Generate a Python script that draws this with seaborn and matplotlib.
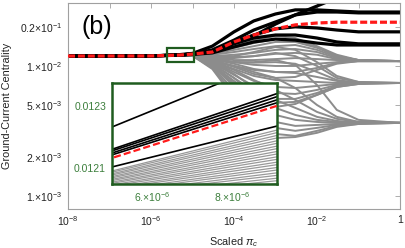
import matplotlib
matplotlib.use("Agg")
import matplotlib.pyplot as plt
import numpy as np
import pandas as pd
import seaborn as sns
from matplotlib.patches import Rectangle
from matplotlib.ticker import FixedLocator, FixedFormatter, NullLocator

# ---------------- data ----------------
x_grid = [1e-8, 1e-6, 5e-6, 1e-5, 3e-5, 1e-4, 3e-4, 1e-3, 3e-3, 1e-2, 3e-2, 1e-1, 1.0]

black_a = [0.01192, 0.01194, 0.012155, 0.012367, 0.0128, 0.0153, 0.0170, 0.0210, 0.0247, 0.0289, 0.0334, 0.0384, 0.0459]
black_b = [0.01192, 0.01194, 0.012232, 0.012495, 0.0142, 0.0183, 0.0222, 0.0251, 0.0270, 0.0270, 0.0265, 0.0260, 0.0260]
black_c = [0.01192, 0.01194, 0.012148, 0.012356, 0.0130, 0.0153, 0.0173, 0.0193, 0.0200, 0.0196, 0.0189, 0.0183, 0.0183]
black_d = [0.01192, 0.01194, 0.012142, 0.012346, 0.0128, 0.0148, 0.0164, 0.0173, 0.0173, 0.0164, 0.0153, 0.0148, 0.0148]
black_e = [0.01192, 0.01194, 0.012160, 0.012378, 0.0133, 0.0158, 0.0189, 0.0218, 0.0247, 0.0260, 0.0260, 0.0256, 0.0256]
black_f = [0.01192, 0.01194, 0.012103, 0.012263, 0.0126, 0.0140, 0.0153, 0.0161, 0.0158, 0.0150, 0.0145, 0.0145, 0.0145]
red_curve = [0.01192, 0.01194, 0.012132, 0.012336, 0.0128, 0.0153, 0.0173, 0.0193, 0.0207, 0.0214, 0.0217, 0.0217, 0.0217]

gray_curves = [
    [0.01192, 0.01194, 0.012090, 0.012250, 0.0128, 0.0142, 0.0158, 0.0170, 0.0164, 0.0142, 0.0122, 0.0111, 0.0109],
    [0.01192, 0.01194, 0.012086, 0.012241, 0.0126, 0.0138, 0.0150, 0.0161, 0.0158, 0.0140, 0.0119, 0.0111, 0.0109],
    [0.01192, 0.01194, 0.012081, 0.012231, 0.0124, 0.0133, 0.0142, 0.0153, 0.0153, 0.0138, 0.0119, 0.0111, 0.0109],
    [0.01192, 0.01194, 0.012077, 0.012222, 0.0122, 0.0128, 0.0135, 0.0142, 0.0145, 0.0133, 0.0117, 0.0111, 0.0109],
    [0.01192, 0.01194, 0.012072, 0.012212, 0.0119, 0.0122, 0.0126, 0.0133, 0.0135, 0.0128, 0.0115, 0.0109, 0.0109],
    [0.01192, 0.01194, 0.012068, 0.012203, 0.0117, 0.0117, 0.0119, 0.0124, 0.0126, 0.0122, 0.0113, 0.0109, 0.0109],
    [0.01192, 0.01194, 0.012063, 0.012193, 0.0117, 0.0119, 0.0128, 0.0140, 0.0133, 0.0107, 0.00838, 0.00753, 0.00740],
    [0.01192, 0.01194, 0.012059, 0.012184, 0.0115, 0.0111, 0.0111, 0.0113, 0.0115, 0.0113, 0.0111, 0.0109, 0.0109],
    [0.01192, 0.01194, 0.012054, 0.012174, 0.0115, 0.0107, 0.0102, 0.0100, 0.0100, 0.0104, 0.0107, 0.0109, 0.0109],
    [0.01192, 0.01194, 0.012050, 0.012165, 0.0115, 0.0115, 0.0119, 0.0126, 0.0119, 0.0100, 0.00809, 0.00753, 0.00740],
    [0.01192, 0.01194, 0.012045, 0.012155, 0.0113, 0.0104, 0.00948, 0.00899, 0.00899, 0.00965, 0.0106, 0.0109, 0.0109],
    [0.01192, 0.01194, 0.012041, 0.012146, 0.0113, 0.0107, 0.0106, 0.0107, 0.0104, 0.00899, 0.00780, 0.00740, 0.00740],
    [0.01192, 0.01194, 0.012036, 0.012136, 0.0111, 0.00982, 0.00868, 0.00809, 0.00823, 0.00932, 0.0104, 0.0109, 0.0109],
    [0.01192, 0.01194, 0.012032, 0.012127, 0.0111, 0.0100, 0.00932, 0.00899, 0.00883, 0.00823, 0.00767, 0.00740, 0.00740],
    [0.01192, 0.01194, 0.012027, 0.012117, 0.0111, 0.0107, 0.0107, 0.0111, 0.0102, 0.00714, 0.00459, 0.00385, 0.00365],
    [0.01192, 0.01194, 0.012023, 0.012108, 0.0109, 0.00948, 0.00838, 0.00780, 0.00767, 0.00753, 0.00740, 0.00740, 0.00740],
    [0.01192, 0.01194, 0.012018, 0.012098, 0.0109, 0.0100, 0.00899, 0.00809, 0.00677, 0.00501, 0.00406, 0.00371, 0.00365],
    [0.01192, 0.01194, 0.012014, 0.012089, 0.0107, 0.00899, 0.00767, 0.00690, 0.00677, 0.00702, 0.00727, 0.00740, 0.00740],
    [0.01192, 0.01194, 0.012009, 0.012079, 0.0107, 0.00932, 0.00780, 0.00654, 0.00548, 0.00443, 0.00392, 0.00371, 0.00365],
    [0.01192, 0.01194, 0.012005, 0.012070, 0.0106, 0.00853, 0.00702, 0.00620, 0.00609, 0.00654, 0.00714, 0.00740, 0.00740],
    [0.01192, 0.01194, 0.012000, 0.012060, 0.0106, 0.00868, 0.00677, 0.00548, 0.00476, 0.00406, 0.00378, 0.00365, 0.00365],
    [0.01192, 0.01194, 0.011996, 0.012051, 0.0104, 0.00809, 0.00642, 0.00558, 0.00558, 0.00620, 0.00702, 0.00740, 0.00740],
    [0.01192, 0.01194, 0.011991, 0.012041, 0.0104, 0.00809, 0.00599, 0.00476, 0.00420, 0.00385, 0.00371, 0.00365, 0.00365],
    [0.01192, 0.01194, 0.011987, 0.012032, 0.0102, 0.00767, 0.00599, 0.00520, 0.00529, 0.00599, 0.00690, 0.00727, 0.00740],
    [0.01192, 0.01194, 0.011982, 0.012022, 0.0102, 0.00753, 0.00538, 0.00420, 0.00385, 0.00371, 0.00365, 0.00365, 0.00365],
    [0.01192, 0.01194, 0.011978, 0.012013, 0.0100, 0.00727, 0.00558, 0.00484, 0.00510, 0.00599, 0.00690, 0.00727, 0.00740],
    [0.01192, 0.01194, 0.011973, 0.012003, 0.0100, 0.00702, 0.00484, 0.00371, 0.00346, 0.00352, 0.00358, 0.00365, 0.00365],
    [0.01192, 0.01194, 0.011969, 0.011994, 0.00982, 0.00654, 0.00435, 0.00334, 0.00317, 0.00334, 0.00352, 0.00365, 0.00365],
    [0.01192, 0.01194, 0.011964, 0.011984, 0.00965, 0.00609, 0.00392, 0.00300, 0.00290, 0.00317, 0.00346, 0.00358, 0.00365],
    [0.01192, 0.01194, 0.011960, 0.011975, 0.00948, 0.00568, 0.00358, 0.00279, 0.00284, 0.00306, 0.00340, 0.00358, 0.00365],
]

x_tick_values = [1e-8, 1e-7, 1e-6, 1e-5, 1e-4, 1e-3, 1e-2, 1e-1, 1.0]
x_tick_labels = ["10$^{-8}$", "", "10$^{-6}$", "", "10$^{-4}$", "", "10$^{-2}$", "", "1"]
y_tick_values = [1e-3, 2e-3, 5e-3, 1e-2, 2e-2]
y_tick_labels = ["1.\u00d710$^{-3}$", "2.\u00d710$^{-3}$", "5.\u00d710$^{-3}$",
                 "1.\u00d710$^{-2}$", "0.2\u00d710$^{-1}$"]
inset_x_ticks = [6e-6, 8e-6]
inset_x_labels = ["6.\u00d710$^{-6}$", "8.\u00d710$^{-6}$"]
inset_y_ticks = [0.0121, 0.0123]
inset_y_labels = ["0.0121", "0.0123"]

# ---------------- style ----------------
sns.set_theme(style="white")
plt.rcParams["font.family"] = ["Liberation Sans", "DejaVu Sans"]
plt.rcParams["mathtext.fontset"] = "custom"
plt.rcParams["mathtext.rm"] = "Liberation Sans"
plt.rcParams["mathtext.it"] = "Liberation Sans:italic"
plt.rcParams["mathtext.default"] = "regular"

GRAY = "#8c8c8c"
GRAY_IN = "#999999"
RED = "#ff1a1a"
GREEN_DARK = "#1f5c1f"
GREEN_TXT = "#3c7f3c"
FRAME = "#a0a0a0"
TXT = "#222222"

def long_df(curves, prefix):
    rows = []
    for i, c in enumerate(curves):
        for xv, yv in zip(x_grid, c):
            rows.append((f"{prefix}{i}", xv, yv))
    return pd.DataFrame(rows, columns=["curve", "x", "y"])

df_gray = long_df(gray_curves, "g")
df_black = long_df([black_a, black_b, black_c, black_d, black_e, black_f], "b")
df_red = pd.DataFrame({"x": x_grid, "y": red_curve})

def draw_curves(ax, lw_g, lw_b, lw_r, dash, gcol):
    sns.lineplot(data=df_gray, x="x", y="y", units="curve", estimator=None,
                 color=gcol, lw=lw_g, ax=ax, legend=False)
    sns.lineplot(data=df_black, x="x", y="y", units="curve", estimator=None,
                 color="black", lw=lw_b, ax=ax, legend=False)
    sns.lineplot(data=df_red, x="x", y="y", estimator=None,
                 color=RED, lw=lw_r, ax=ax, legend=False)
    ax.lines[-1].set_dashes(dash)
    ax.lines[-1].set_zorder(3)
    ax.set_xlabel("")
    ax.set_ylabel("")

fig = plt.figure(figsize=(4.05, 2.48), dpi=100)
ax = fig.add_axes([68 / 405, 1 - 209 / 248, 332 / 405, 206 / 248])
ax.set_xscale("log")
ax.set_yscale("log")
draw_curves(ax, 1.4, 2.3, 2.3, (2.2, 0.9), GRAY)
ax.set_xlim(1e-8, 1.0)
ax.set_ylim(7.94e-4, 0.0305)

ax.xaxis.set_major_locator(FixedLocator(x_tick_values))
ax.xaxis.set_major_formatter(FixedFormatter(x_tick_labels))
ax.xaxis.set_minor_locator(NullLocator())
ax.yaxis.set_major_locator(FixedLocator(y_tick_values))
ax.yaxis.set_major_formatter(FixedFormatter(y_tick_labels))
ax.yaxis.set_minor_locator(NullLocator())
ax.tick_params(which="both", direction="in", top=True, right=True, length=3.5,
               width=0.6, color=FRAME, labelsize=7.5, labelcolor=TXT, pad=4)
for s in ax.spines.values():
    s.set_color(FRAME)
    s.set_linewidth(0.8)

ax.set_xlabel("Scaled $\\mathit{\\pi}_{\\mathit{c}}$", fontsize=7.8, color=TXT)
ax.xaxis.set_label_coords(0.5, -0.125)
ax.set_ylabel("Ground-Current Centrality", fontsize=7.8, color=TXT)
ax.yaxis.set_label_coords(-0.170, 0.5)

ax.text(0.042, 0.883, "(b)", transform=ax.transAxes, fontsize=18,
        ha="left", va="center", color="black")

# zoom marker box
ax.add_patch(Rectangle((2.4e-6, 0.0107), 1.09e-5 - 2.4e-6, 0.0137 - 0.0107,
                       fill=False, ec=GREEN_DARK, lw=1.6, zorder=4))

# ---------------- inset ----------------
axin = fig.add_axes([112 / 405, 1 - 184 / 248, 165 / 405, 101 / 248])
axin.set_facecolor("white")
draw_curves(axin, 0.9, 1.2, 1.6, (3.2, 1.4), GRAY_IN)
axin.set_xlim(5e-6, 9.125e-6)
axin.set_ylim(0.012048, 0.012374)
axin.set_xticks(inset_x_ticks)
axin.set_xticklabels(inset_x_labels)
axin.set_yticks(inset_y_ticks)
axin.set_yticklabels(inset_y_labels)
axin.tick_params(direction="inout", length=2.5, width=0.8, color=GREEN_DARK,
                 labelcolor=GREEN_TXT, labelsize=7.5, pad=3)
for s in axin.spines.values():
    s.set_color(GREEN_DARK)
    s.set_linewidth(1.8)

fig.savefig("out.png", dpi=100)
